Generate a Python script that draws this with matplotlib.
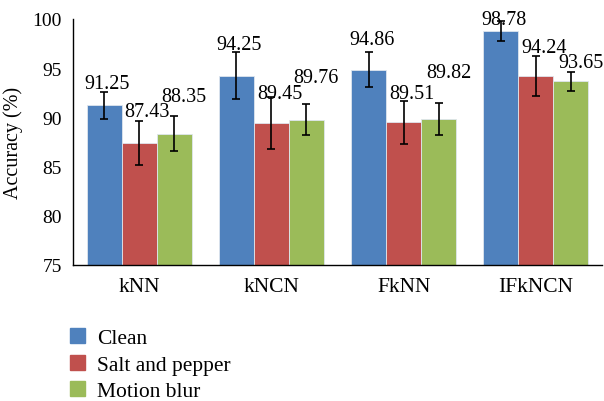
import numpy as np
import matplotlib.pyplot as plt
from matplotlib.patches import Patch

plt.rcParams['font.family'] = ['Liberation Serif', 'DejaVu Serif']

methods = ['kNN', 'kNCN', 'FkNN', 'IFkNCN']
series = ['Clean', 'Salt and pepper', 'Motion blur']
acc = {
    'Clean':           [91.25, 94.25, 94.86, 98.78],
    'Salt and pepper': [87.43, 89.45, 89.51, 94.24],
    'Motion blur':     [88.35, 89.76, 89.82, 93.65],
}
err = {
    'Clean':           [1.37, 2.41, 1.77, 1.01],
    'Salt and pepper': [2.23, 2.63, 2.19, 2.02],
    'Motion blur':     [1.75, 1.57, 1.64, 0.93],
}
colors = ['#4F81BD', '#C0504D', '#9BBB59']

# label nudges (pixels): horizontal per series, vertical per bar above the error cap
label_dx = [3, 8, 10]
label_dy = {
    'Clean':           [3.6, 2.7, 8, -2.7],
    'Salt and pepper': [5, -1, 2.3, 3.4],
    'Motion blur':     [15.6, 22.6, 25.7, 5],
}

fig = plt.figure(figsize=(6.04, 4.02), dpi=100)
ax = fig.add_axes([73 / 604, 136 / 402, 529 / 604, 246 / 402])

x = np.arange(len(methods))
w = 0.265
px = 0.72  # points per pixel at 100 dpi

for i, s in enumerate(series):
    xs = x + (i - 1) * w
    ax.bar(xs, np.array(acc[s]) - 75, w, bottom=75, color=colors[i],
           edgecolor='#dfe6ee', linewidth=0.6, label=s, zorder=2)
    ax.errorbar(xs, acc[s], yerr=err[s], fmt='none', ecolor='black',
                elinewidth=1.2, capsize=3, capthick=1.2, zorder=3)
    for j, v in enumerate(acc[s]):
        ax.annotate(f'{v:.2f}', (xs[j], v + err[s][j]),
                    xytext=(label_dx[i] * px, label_dy[s][j] * px),
                    textcoords='offset points', ha='center', va='baseline',
                    fontsize=14.5, zorder=4)

ax.set_xlim(-0.5, 3.5)
ax.set_ylim(75, 100)
ax.set_yticks([75, 80, 85, 90, 95, 100])
ax.set_xticks(x)
ax.set_xticklabels(methods, fontsize=15.5)
ax.tick_params(axis='both', length=0)
ax.tick_params(axis='y', pad=8, labelsize=14)
ax.tick_params(axis='x', pad=9)
ax.set_ylabel('Accuracy (%)', fontsize=14.5, labelpad=7)
for sp in ['top', 'right']:
    ax.spines[sp].set_visible(False)
ax.spines['left'].set_linewidth(1.0)
ax.spines['bottom'].set_linewidth(1.0)

handles = [Patch(color=c, label=s) for c, s in zip(colors, series)]
fig.legend(handles=handles, loc='upper left', bbox_to_anchor=(70 / 604, 1 - 329 / 402),
           frameon=False, fontsize=15.5, handlelength=0.7, handleheight=0.7,
           handletextpad=0.55, labelspacing=0.3, borderpad=0, borderaxespad=0)

plt.savefig('out.png', dpi=100)
